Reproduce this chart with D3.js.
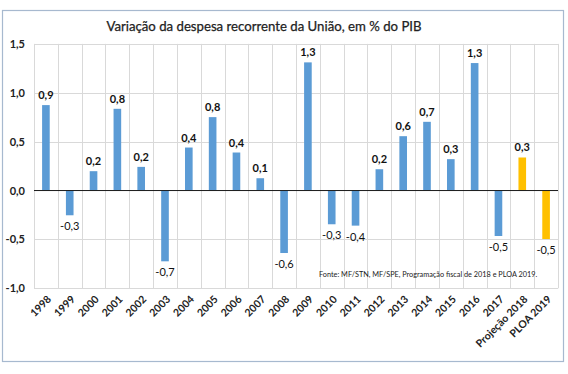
<!DOCTYPE html>
<html><head><meta charset="utf-8">
<script src="https://cdn.jsdelivr.net/npm/d3@7"></script>
<style>body{margin:0;background:#fff}svg{display:block;font-family:Lato,"Open Sans",sans-serif}</style>
</head><body>
<svg id="c" width="568" height="374"></svg>
<script>
const categories = ["1998","1999","2000","2001","2002","2003","2004","2005","2006","2007","2008","2009","2010","2011","2012","2013","2014","2015","2016","2017","Projeção 2018","PLOA 2019"];
const values = [0.874,-0.253,0.198,0.836,0.242,-0.724,0.44,0.751,0.389,0.126,-0.639,1.311,-0.345,-0.359,0.218,0.556,0.703,0.321,1.304,-0.465,0.338,-0.496];
const labels = ["0,9","-0,3","0,2","0,8","0,2","-0,7","0,4","0,8","0,4","0,1","-0,6","1,3","-0,3","-0,4","0,2","0,6","0,7","0,3","1,3","-0,5","0,3","-0,5"];
const projected = [false,false,false,false,false,false,false,false,false,false,false,false,false,false,false,false,false,false,false,false,true,true];
const yTicks = [-1.0,-0.5,0.0,0.5,1.0,1.5];
const yTickLabels = ["-1,0","-0,5","0,0","0,5","1,0","1,5"];
const title = "Variação da despesa recorrente da União, em % do PIB";
const source = "Fonte: MF/STN, MF/SPE, Programação fiscal de 2018 e PLOA 2019.";

const svg = d3.select("#c");
svg.append("rect").attr("x",2.5).attr("y",10.5).attr("width",561).attr("height",351)
  .attr("fill","#fff").attr("stroke","#A7B9CF").attr("stroke-width",1.2);

const x = d3.scaleBand().domain(categories).range([34,558]).paddingInner(0.68).paddingOuter(0.34);
const y = d3.scaleLinear().domain([-1,1.5]).range([288.3,43.9]);
const step = x.step();

// horizontal gridlines
svg.append("g").selectAll("line").data(yTicks.filter(d=>d!==0)).join("line")
  .attr("x1",34).attr("x2",558).attr("y1",d=>Math.round(y(d))+0.5).attr("y2",d=>Math.round(y(d))+0.5)
  .attr("stroke","#D9D9D9").attr("stroke-width",1);
// vertical gridlines at category boundaries
const bounds = d3.range(categories.length+1).map(i=>34+i*step);
svg.append("g").selectAll("line").data(bounds).join("line")
  .attr("x1",d=>Math.round(d)+0.5).attr("x2",d=>Math.round(d)+0.5).attr("y1",y(1.5)).attr("y2",y(-1))
  .attr("stroke","#D9D9D9").attr("stroke-width",1);

// bars
svg.append("g").selectAll("rect").data(values).join("rect")
  .attr("x",(d,i)=>x(categories[i])).attr("width",x.bandwidth())
  .attr("y",d=>y(Math.max(0,d))).attr("height",d=>Math.abs(y(d)-y(0)))
  .attr("fill",(d,i)=>projected[i]?"#FFC000":"#5B9BD5");

// zero line
svg.append("line").attr("x1",34).attr("x2",558).attr("y1",y(0)).attr("y2",y(0))
  .attr("stroke","#1a1a1a").attr("stroke-width",1);

// y axis labels
const yAxis = d3.axisLeft(y).tickValues(yTicks).tickSize(0).tickPadding(0)
  .tickFormat((d,i)=>yTickLabels[i]);
const ga = svg.append("g").attr("transform","translate(25,0)").call(yAxis);
ga.select(".domain").remove();
ga.selectAll("text").attr("font-size",11).attr("font-weight","bold").attr("fill","#222")
  .attr("font-family","Lato,sans-serif");

// x axis labels rotated
const xAxis = d3.axisBottom(x).tickSize(0).tickPadding(0);
const gx = svg.append("g").attr("transform","translate(0,295)").call(xAxis);
gx.select(".domain").remove();
gx.selectAll("text").attr("font-size",10.5).attr("font-weight","bold").attr("fill","#222")
  .attr("font-family","Lato,sans-serif")
  .attr("text-anchor","end").attr("dy",0).attr("y",0)
  .attr("transform","translate(6,5) rotate(-45)");

// data labels
svg.append("g").selectAll("text").data(values).join("text")
  .attr("x",(d,i)=>x(categories[i])+x.bandwidth()/2)
  .attr("y",d=>d>=0? y(d)-6 : y(d)+15)
  .attr("text-anchor","middle").attr("font-size",11)
  .attr("font-weight",d=>d>=0?"bold":"normal").attr("fill","#111")
  .text((d,i)=>labels[i]);

// title
svg.append("text").attr("x",264).attr("y",31).attr("text-anchor","middle")
  .attr("font-size",13.2).attr("fill","#222").attr("stroke","#222").attr("stroke-width",0.25).text(title);

// source
svg.append("text").attr("x",319).attr("y",277).attr("font-size",7.3).attr("fill","#222")
  .text(source);
</script>
</body></html>
